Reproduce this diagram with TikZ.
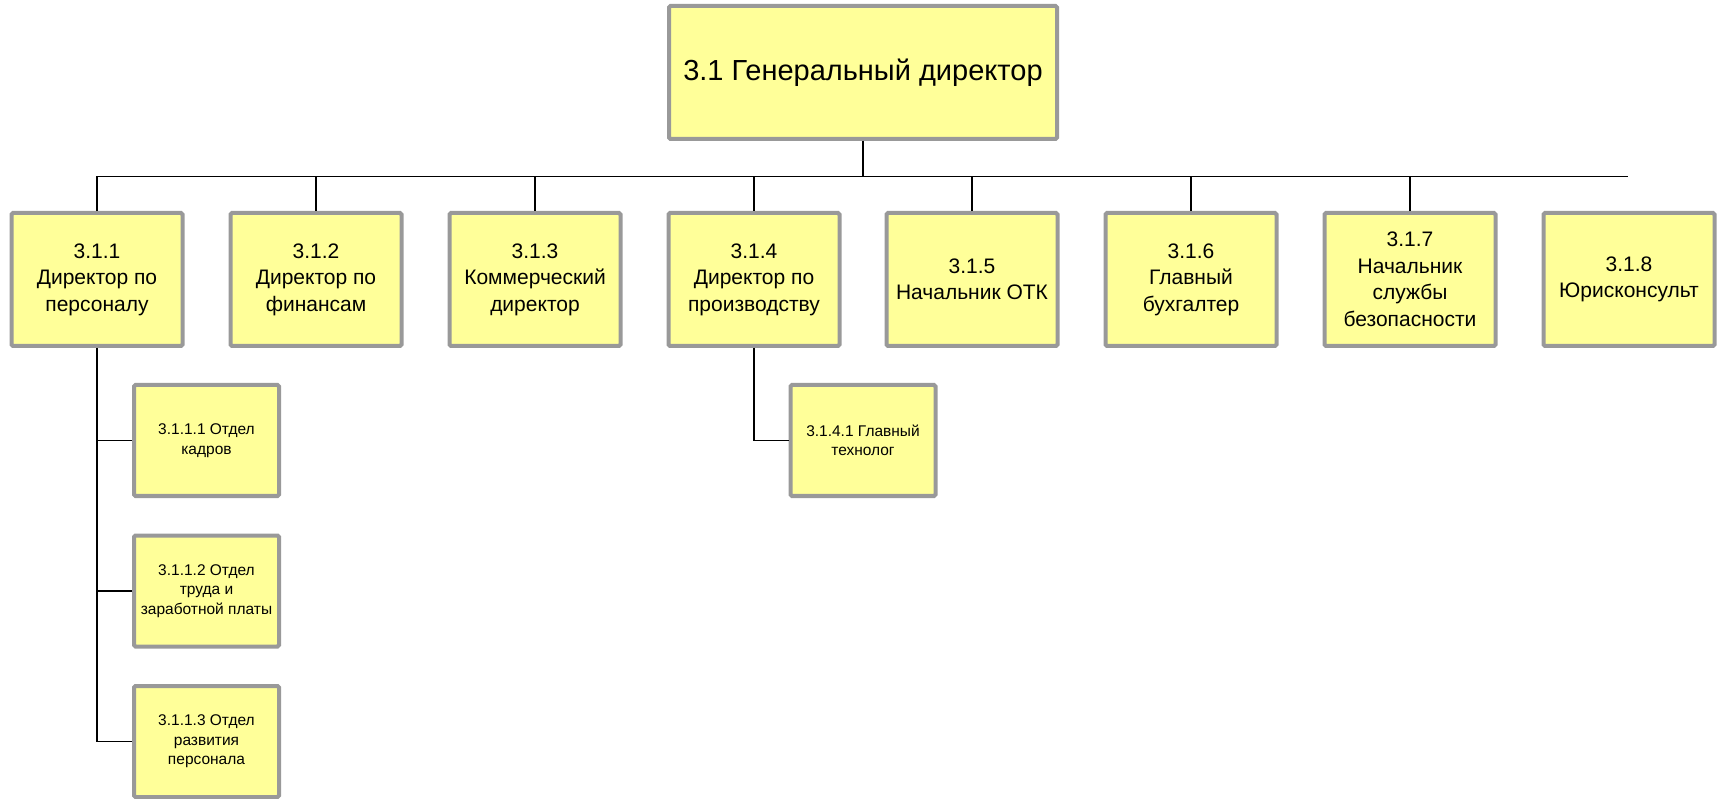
\documentclass[tikz,border=0pt]{standalone}
\usepackage{fontspec}
\setmainfont{Liberation Sans}
\definecolor{boxfill}{HTML}{FFFF99}
\definecolor{boxedge}{HTML}{999999}
\begin{document}
\begin{tikzpicture}[x=1pt,y=-1pt,
  unit/.style={draw=boxedge, fill=boxfill, line width=4pt, rounded corners=1.5pt,
    inner sep=0pt, align=center, text=black},
  chief/.style={unit, minimum width=388pt, minimum height=133pt, font=\fontsize{29}{35}\selectfont},
  dept/.style={unit, minimum width=171pt, minimum height=133pt, font=\fontsize{21}{26.5}\selectfont},
  office/.style={unit, minimum width=145pt, minimum height=111pt, font=\fontsize{15.5}{19.5}\selectfont},
  link/.style={draw=black, line width=1.4pt}]
\useasboundingbox (0,0) rectangle (1717,799);

% general director
\node[chief] (gd) at (863,72.5) {3.1 Генеральный директор};

% deputies
\node[dept] (d1) at (97,279.5)   {3.1.1\\Директор по\\персоналу};
\node[dept] (d2) at (316,279.5)  {3.1.2\\Директор по\\финансам};
\node[dept] (d3) at (535,279.5)  {3.1.3\\Коммерческий\\директор};
\node[dept] (d4) at (754,279.5)  {3.1.4\\Директор по\\производству};
\node[dept] (d5) at (972,279.5)  {3.1.5\\Начальник ОТК};
\node[dept] (d6) at (1191,279.5) {3.1.6\\Главный\\бухгалтер};
\node[dept] (d7) at (1410,279.5) {3.1.7\\Начальник\\службы\\безопасности};
\node[dept] (d8) at (1629,279.5) {3.1.8\\Юрисконсульт};

% offices
\node[office] (o1) at (206.5,440.5) {3.1.1.1 Отдел\\кадров};
\node[office] (o2) at (206.5,591)   {3.1.1.2 Отдел\\труда и\\заработной платы};
\node[office] (o3) at (206.5,741.5) {3.1.1.3 Отдел\\развития\\персонала};
\node[office] (t1) at (863,440.5)   {3.1.4.1 Главный\\технолог};

% main bus
\coordinate (busL) at (97,176.5);
\coordinate (busR) at (1628,176.5);
\coordinate (busC) at (863,176.5);
\draw[link] (busL) -- (busR);
\draw[link] (gd.south) -- (busC);
\foreach \d in {d1,d2,d3,d4,d5,d6,d7}
  \draw[link] (\d.north |- busL) -- (\d.north);

% personnel branch
\draw[link] (d1.south) -- (d1.south |- o3.west) -- (o3.west);
\draw[link] (d1.south |- o1.west) -- (o1.west);
\draw[link] (d1.south |- o2.west) -- (o2.west);

% production branch
\draw[link] (d4.south) -- (d4.south |- t1.west) -- (t1.west);
\end{tikzpicture}
\end{document}
